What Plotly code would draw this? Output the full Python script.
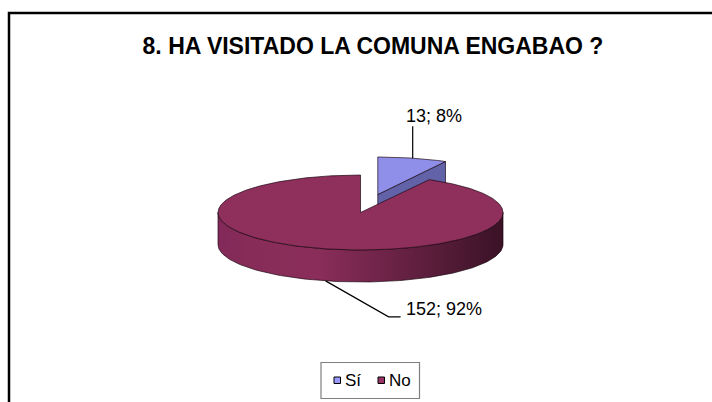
import numpy as np
import plotly.graph_objects as go

# ---------------- data ----------------
categories = ["Sí", "No"]
counts = [13, 152]
percent_labels = ["8%", "92%"]
title_text = "8. HA VISITADO LA COMUNA ENGABAO ?"

# ---------------- style ----------------
W, H = 712, 402
CX, CY, RX, RY, DEPTH = 360.5, 212.5, 142.5, 37.5, 32.0
EXPLODE = [0.495, 0.0]
TOP_COLORS = ["#8F8FEA", "#8E2F5C"]
CUT_COLORS = ["#6262A8", "#6E2447"]
WALL_SCALES = [
    [[0, "#7070B8"], [1, "#3C3C70"]],
    [[0, "#82295A"], [0.1, "#872C58"], [0.35, "#8A2D5A"], [0.75, "#5A1D3B"], [1, "#3A1226"]],
]
LEGEND_COLORS = ["#9999FF", "#993366"]
EDGE = "rgba(25,5,15,0.85)"
FONT = "Liberation Sans, Arial, sans-serif"
# label placement relative to the leader anchor
LABEL_STYLE = [
    dict(rim="top", path=[(0, 0), (0, -32)], text=(21, -42), xanchor="center"),
    dict(rim="bottom", path=[(0, 0), (63, 36), (75, 36)], text=(78, 28), xanchor="left"),
]

total = float(sum(counts))
fracs = np.array(counts, dtype=float) / total
ends = np.cumsum(fracs) * 360.0
starts = ends - fracs * 360.0


def pt(theta, dx=0.0, dy=0.0, dz=0.0, r=1.0):
    t = np.radians(theta)
    return CX + dx + RX * r * np.sin(t), CY + dy - RY * r * np.cos(t) + dz


fig = go.Figure()

order = sorted(range(len(counts)), key=lambda i: -np.cos(np.radians((starts[i] + ends[i]) / 2)))
anchors = {}
for i in order:
    s, e = starts[i], ends[i]
    mid = (s + e) / 2
    dx = EXPLODE[i] * RX * np.sin(np.radians(mid))
    dy = -EXPLODE[i] * RY * np.cos(np.radians(mid))
    c = (CX + dx, CY + dy)

    # cut face at start angle
    if np.sin(np.radians(s)) < -1e-9:
        o = pt(s, dx, dy)
        xs = [c[0], o[0], o[0], c[0], c[0]]
        ys = [c[1], o[1], o[1] + DEPTH, c[1] + DEPTH, c[1]]
        fig.add_trace(go.Scatter(x=xs, y=ys, fill="toself", fillcolor=CUT_COLORS[i], mode="lines",
                                 line=dict(color=EDGE, width=0.8), hoverinfo="skip", showlegend=False))
    # cut face at end angle
    if np.sin(np.radians(e)) > 1e-9:
        o = pt(e, dx, dy)
        xs = [c[0], o[0], o[0], c[0], c[0]]
        ys = [c[1], o[1], o[1] + DEPTH, c[1] + DEPTH, c[1]]
        fig.add_trace(go.Scatter(x=xs, y=ys, fill="toself", fillcolor=CUT_COLORS[i], mode="lines",
                                 line=dict(color=EDGE, width=0.8), hoverinfo="skip", showlegend=False))
    # front outer wall
    a, b = max(s, 90.0), min(e, 270.0)
    if b > a:
        th = np.linspace(a, b, 120)
        tx, ty = pt(th, dx, dy)
        bx, by = pt(th[::-1], dx, dy, DEPTH)
        fig.add_trace(go.Scatter(x=np.r_[tx, bx, tx[:1]], y=np.r_[ty, by, ty[:1]], fill="toself",
                                 fillgradient=dict(type="horizontal", colorscale=WALL_SCALES[i]),
                                 mode="lines", line=dict(color=EDGE, width=0.8),
                                 hoverinfo="skip", showlegend=False))
    # top surface
    th = np.linspace(s, e, max(int((e - s) * 2), 8))
    ax_, ay_ = pt(th, dx, dy)
    fig.add_trace(go.Scatter(x=np.r_[c[0], ax_, c[0]], y=np.r_[c[1], ay_, c[1]], fill="toself",
                             fillcolor=TOP_COLORS[i], mode="lines", line=dict(color=EDGE, width=0.8),
                             hoverinfo="skip", showlegend=False))
    st = LABEL_STYLE[i]
    anchors[i] = pt(mid, dx, dy, DEPTH if st["rim"] == "bottom" else 0.0)

# leaders + data labels
for i in range(len(counts)):
    st = LABEL_STYLE[i]
    axp, ayp = anchors[i]
    lx = [axp + p[0] for p in st["path"]]
    ly = [ayp + p[1] for p in st["path"]]
    fig.add_trace(go.Scatter(x=lx, y=ly, mode="lines", line=dict(color="black", width=1.2),
                             hoverinfo="skip", showlegend=False))
    fig.add_annotation(x=axp + st["text"][0], y=ayp + st["text"][1], xref="x", yref="y",
                       text=f"{counts[i]}; {percent_labels[i]}", showarrow=False,
                       xanchor=st["xanchor"], yanchor="middle",
                       font=dict(family=FONT, size=18, color="black"))

# legend (box, swatches, names)
shapes = [
    dict(type="rect", xref="x", yref="y", x0=9, y0=13, x1=W + 20, y1=H + 20,
         line=dict(color="black", width=2.5), fillcolor="rgba(0,0,0,0)", layer="above"),
    dict(type="rect", xref="x", yref="y", x0=321, y0=362.5, x1=419.5, y1=398.5,
         line=dict(color="#7f7f7f", width=1.2), fillcolor="white"),
]
leg_x = [334, 378]
for j, name in enumerate(categories):
    shapes.append(dict(type="rect", xref="x", yref="y", x0=leg_x[j], y0=377, x1=leg_x[j] + 6.5, y1=383.5,
                       line=dict(color="black", width=1), fillcolor=LEGEND_COLORS[j]))
    fig.add_annotation(x=leg_x[j] + 9, y=380.5, xref="x", yref="y", text=name, showarrow=False,
                       xanchor="left", yanchor="middle", font=dict(family=FONT, size=17, color="black"))

fig.update_layout(
    width=W, height=H, autosize=False,
    margin=dict(l=0, r=0, t=0, b=0),
    paper_bgcolor="white", plot_bgcolor="white",
    xaxis=dict(range=[0, W], visible=False, fixedrange=True),
    yaxis=dict(range=[H, 0], visible=False, fixedrange=True),
    shapes=shapes,
    showlegend=False,
    hovermode=False,
    title=dict(text=f"<b>{title_text}</b>", x=373 / W, xanchor="center", y=1 - 46 / H, yanchor="middle",
               yref="container", xref="container", font=dict(family=FONT, size=23, color="black")),
)

fig.write_html("out.html", config={"displayModeBar": False, "staticPlot": True},
               post_script="document.body.style.margin='0px';document.body.style.overflow='hidden';")
